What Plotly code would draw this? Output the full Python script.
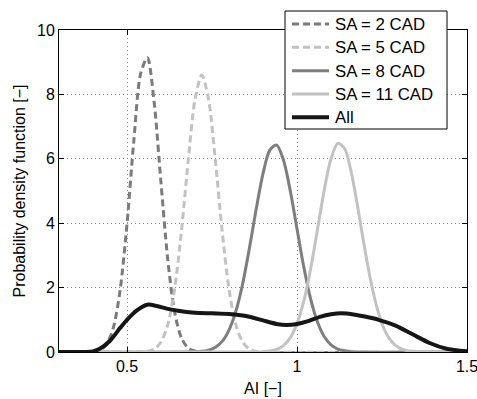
import plotly.graph_objects as go

# Probability density of AI for each spark advance (SA) setting
sa2_x = [0.30, 0.40, 0.42, 0.44, 0.46, 0.48, 0.50, 0.52, 0.54, 0.56, 0.58, 0.60,
         0.62, 0.64, 0.66, 0.68, 0.70, 0.72, 1.50]
sa2_y = [0, 0.01, 0.06, 0.24, 0.76, 1.94, 3.98, 6.55, 8.64, 9.14, 7.74, 5.25,
         2.86, 1.24, 0.44, 0.12, 0.03, 0, 0]

sa5_x = [0.30, 0.52, 0.54, 0.56, 0.58, 0.60, 0.62, 0.64, 0.66, 0.68, 0.70, 0.72,
         0.74, 0.76, 0.78, 0.80, 0.82, 0.84, 0.86, 0.88, 0.90, 0.92, 1.50]
sa5_y = [0, 0, 0.01, 0.02, 0.09, 0.31, 0.85, 1.96, 3.74, 5.94, 7.84, 8.60,
         7.84, 5.94, 3.74, 1.96, 0.85, 0.31, 0.09, 0.02, 0.01, 0, 0]

sa8_x = [0.30, 0.68, 0.70, 0.72, 0.74, 0.76, 0.78, 0.80, 0.82, 0.84, 0.86, 0.88,
         0.90, 0.92, 0.94, 0.96, 0.98, 1.00, 1.02, 1.04, 1.06, 1.08, 1.10, 1.12,
         1.14, 1.16, 1.18, 1.50]
sa8_y = [0, 0, 0.01, 0.02, 0.06, 0.15, 0.33, 0.68, 1.26, 2.11, 3.22, 4.44,
         5.54, 6.27, 6.43, 5.97, 5.02, 3.83, 2.64, 1.65, 0.94, 0.48, 0.22, 0.09,
         0.04, 0.01, 0, 0]

sa11_x = [0.30, 0.88, 0.90, 0.92, 0.94, 0.96, 0.98, 1.00, 1.02, 1.04, 1.06, 1.08,
          1.10, 1.12, 1.14, 1.16, 1.18, 1.20, 1.22, 1.24, 1.26, 1.28, 1.30, 1.32,
          1.34, 1.36, 1.38, 1.50]
sa11_y = [0, 0, 0.01, 0.03, 0.08, 0.20, 0.44, 0.88, 1.58, 2.58, 3.79, 5.02,
          6.00, 6.48, 6.32, 5.56, 4.41, 3.16, 2.05, 1.20, 0.63, 0.30, 0.13, 0.05,
          0.02, 0.01, 0, 0]

all_x = [0.30, 0.38, 0.40, 0.42, 0.45, 0.48, 0.50, 0.53, 0.56, 0.59, 0.62, 0.65,
         0.70, 0.75, 0.80, 0.85, 0.90, 0.94, 0.97, 1.00, 1.03, 1.07, 1.10, 1.13,
         1.17, 1.20, 1.24, 1.29, 1.34, 1.39, 1.44, 1.48, 1.50]
all_y = [0, 0, 0.02, 0.10, 0.35, 0.75, 1.00, 1.30, 1.47, 1.42, 1.34, 1.28,
         1.22, 1.20, 1.18, 1.12, 0.98, 0.87, 0.84, 0.87, 0.95, 1.10, 1.17, 1.20,
         1.16, 1.10, 1.00, 0.82, 0.55, 0.28, 0.10, 0.04, 0.02]

series_names = ["SA = 2 CAD", "SA = 5 CAD", "SA = 8 CAD", "SA = 11 CAD", "All"]

x_ticks = [0.5, 1, 1.5]
x_tick_text = ["0.5", "1", "1.5"]
y_ticks = [0, 2, 4, 6, 8, 10]

FONT = "Liberation Sans, Arial, Helvetica, sans-serif"
FS = 16

W, H = 477, 399
ML, MR, MT, MB = 59, 10, 30, 47
PW, PH = W - ML - MR, H - MT - MB

def px_to_paper(px, py):
    # pixel position on the page -> paper coordinates of the plot area
    return (px - ML) / PW, (H - MB - py) / PH

styles = [
    ("#7b7b7b", 3, "7px,4px"),
    ("#c2c2c2", 3, "7px,4px"),
    ("#7e7e7e", 3, "solid"),
    ("#c2c2c2", 3, "solid"),
    ("#161616", 4, "solid"),
]
data = [(sa2_x, sa2_y), (sa5_x, sa5_y), (sa8_x, sa8_y), (sa11_x, sa11_y), (all_x, all_y)]

fig = go.Figure()
for name, (xs, ys), (color, width, dash) in zip(series_names, data, styles):
    fig.add_trace(go.Scatter(
        x=xs, y=ys, mode="lines", name=name, showlegend=False,
        line=dict(color=color, width=width, dash=dash, shape="spline", smoothing=0.8),
    ))

# Boxed legend in the upper right, overlapping the top frame
shapes, annotations = [], []
bx0, by0 = px_to_paper(285, 129)
bx1, by1 = px_to_paper(447, 11)
shapes.append(dict(type="rect", xref="paper", yref="paper", x0=bx0, y0=by0, x1=bx1, y1=by1,
                   fillcolor="white", line=dict(color="black", width=1), layer="above"))
row_y = [24, 47.3, 70.7, 94, 117.3]
for name, (color, width, dash), ry in zip(series_names, styles, row_y):
    lx0, ly = px_to_paper(292, ry)
    lx1, _ = px_to_paper(329, ry)
    shapes.append(dict(type="line", xref="paper", yref="paper", x0=lx0, y0=ly, x1=lx1, y1=ly,
                       line=dict(color=color, width=width, dash=dash), layer="above"))
    tx, ty = px_to_paper(333, ry + 0.5)
    annotations.append(dict(xref="paper", yref="paper", x=tx, y=ty, text=name,
                            showarrow=False, xanchor="left", yanchor="middle",
                            font=dict(family=FONT, size=16.8, color="black")))

axis_common = dict(
    showline=True, linecolor="black", linewidth=1, mirror="ticks",
    ticks="inside", ticklen=5, tickcolor="black", tickwidth=1,
    showgrid=True, gridcolor="#8a8a8a", griddash="1px,3px", gridwidth=1,
    zeroline=False, automargin=False, ticklabeloverflow="allow",
    tickfont=dict(family=FONT, size=16, color="black"),
)

fig.update_layout(
    width=W, height=H,
    margin=dict(l=ML, r=MR, t=MT, b=MB),
    paper_bgcolor="white", plot_bgcolor="white",
    font=dict(family=FONT, size=FS, color="black"),
    xaxis=dict(range=[0.3, 1.5], tickvals=x_ticks, ticktext=x_tick_text,
               title=dict(text="AI [−]", font=dict(family=FONT, size=FS), standoff=8),
               **axis_common),
    yaxis=dict(range=[0, 10], tickvals=y_ticks,
               title=dict(text="Probability density function [−]",
                          font=dict(family=FONT, size=FS), standoff=7),
               **axis_common),
    shapes=shapes,
    annotations=annotations,
    showlegend=False,
)

fig.write_html("out.html")
